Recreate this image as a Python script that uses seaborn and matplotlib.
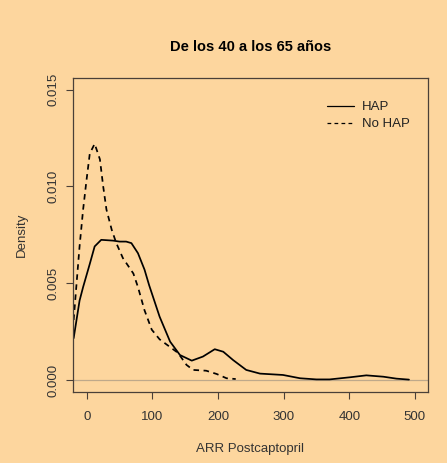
import matplotlib
matplotlib.use("Agg")
import matplotlib.pyplot as plt
from matplotlib.lines import Line2D
import seaborn as sns
import pandas as pd

# Density estimates of ARR after captopril, age group 40-65
hap_x = [-20, -11, -5.6, 4.6, 12, 22, 40, 50, 60, 68, 78, 88, 95, 111, 127, 142,
         160, 177, 195, 208, 223, 243, 264, 299, 325, 350, 370, 401, 426, 452, 472, 491]
hap_y = [0.00216, 0.0041, 0.0048, 0.0060, 0.0069, 0.00724, 0.0072, 0.00715,
         0.00715, 0.00707, 0.00655, 0.0057, 0.0049, 0.00327, 0.00198, 0.00129,
         0.00100, 0.00121, 0.00159, 0.00146, 0.00103, 0.00052, 0.00033, 0.00026,
         0.00009, 0.00003, 0.00003, 0.00014, 0.00024, 0.00017, 0.00007, 0.00002]

nohap_x = [-20, -16, -11, -5.6, -0.5, 4.6, 12, 20, 25, 30, 38, 45, 55, 71, 78, 88,
           99, 111, 127, 139, 152, 162, 182, 198, 213, 227]
nohap_y = [0.0031, 0.0048, 0.0069, 0.0088, 0.0103, 0.0117, 0.0122, 0.0114, 0.0100,
           0.0088, 0.00776, 0.00707, 0.0063, 0.0055, 0.0048, 0.0036, 0.0026, 0.0021,
           0.0017, 0.0014, 0.00078, 0.00052, 0.00048, 0.00031, 0.00009, 0.00005]

x_ticks = [0, 100, 200, 300, 400, 500]
y_ticks = [0.000, 0.005, 0.010, 0.015]
y_tick_labels = ["0.000", "0.005", "0.010", "0.015"]
series_labels = ["HAP", "No HAP"]

bg = "#FDD69E"
dash = (0, (3.2, 2.6))
sns.set_theme(style="white")
plt.rcParams["font.family"] = ["Liberation Sans", "DejaVu Sans"]

fig = plt.figure(figsize=(4.47, 4.63), dpi=100, facecolor=bg)
ax = fig.add_axes([73 / 447, 1 - 392 / 463, (428 - 73) / 447, (392 - 78) / 463])
ax.set_facecolor(bg)

hap = pd.DataFrame({"x": hap_x, "y": hap_y})
nohap = pd.DataFrame({"x": nohap_x, "y": nohap_y})

ax.axhline(0, color="#BFA98A", lw=0.9, zorder=1)
sns.lineplot(data=hap, x="x", y="y", ax=ax, color="black", lw=1.25,
             sort=False, estimator=None, legend=False)
sns.lineplot(data=nohap, x="x", y="y", ax=ax, color="black", lw=1.25,
             linestyle=dash, sort=False, estimator=None, legend=False)

ax.set_xlim(-21, 520)
ax.set_ylim(-0.00062, 0.0156)
ax.set_xticks(x_ticks)
ax.set_xticklabels([str(t) for t in x_ticks])
ax.set_yticks(y_ticks)
ax.set_yticklabels(y_tick_labels, rotation=90, va="center")

for s in ax.spines.values():
    s.set_color("#4A4038")
    s.set_linewidth(0.9)

ax.tick_params(axis="x", pad=9)
ax.tick_params(axis="y", pad=5)
ax.tick_params(axis="both", which="both", direction="out", length=5, width=0.8,
               color="#4A4038", labelsize=9.5, labelcolor="#333333",
               bottom=True, left=True)

ax.set_xlabel("ARR Postcaptopril", fontsize=9.5, color="#333333", labelpad=14)
ax.set_ylabel("Density", fontsize=9.5, color="#333333", labelpad=14)
ax.set_title("De los 40 a los 65 años", fontsize=10.5, fontweight="bold",
             color="black", pad=19.5)

handles = [Line2D([], [], color="black", lw=0.9),
           Line2D([], [], color="black", lw=0.9, linestyle=(0, (3, 2.6)))]
leg = ax.legend(handles, series_labels, loc="upper left",
                bbox_to_anchor=((327 - 73) / 355, 0.926), borderaxespad=0,
                borderpad=0, frameon=False, fontsize=9.5, handlelength=2.05,
                handletextpad=0.6, labelspacing=0.34)
for t in leg.get_texts():
    t.set_color("#222222")

fig.savefig("out.png", dpi=100, facecolor=bg)
